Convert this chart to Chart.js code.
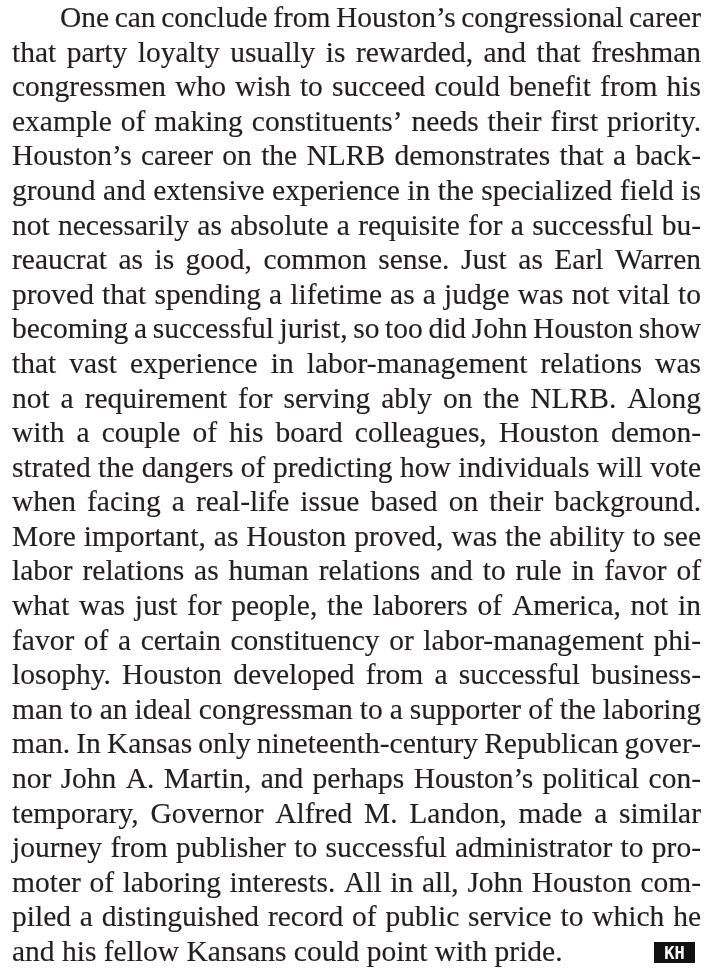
<!DOCTYPE html>
<html>
<head>
<meta charset="utf-8">
<script src="https://cdn.jsdelivr.net/npm/chart.js@4.4.0/dist/chart.umd.min.js"></script>
<style>
  html, body { margin: 0; padding: 0; background: #fff; }
  #page { display: block; }
</style>
</head>
<body>
<canvas id="page" width="721" height="968"></canvas>
<script>
// one entry per printed line, breaks and hyphens as on the page
const lines = [
    'One can conclude from Houston’s congressional career',
    'that party loyalty usually is rewarded, and that freshman',
    'congressmen who wish to succeed could benefit from his',
    'example of making constituents’ needs their first priority.',
    'Houston’s career on the NLRB demonstrates that a back-',
    'ground and extensive experience in the specialized field is',
    'not necessarily as absolute a requisite for a successful bu-',
    'reaucrat as is good, common sense. Just as Earl Warren',
    'proved that spending a lifetime as a judge was not vital to',
    'becoming a successful jurist, so too did John Houston show',
    'that vast experience in labor-management relations was',
    'not a requirement for serving ably on the NLRB. Along',
    'with a couple of his board colleagues, Houston demon-',
    'strated the dangers of predicting how individuals will vote',
    'when facing a real-life issue based on their background.',
    'More important, as Houston proved, was the ability to see',
    'labor relations as human relations and to rule in favor of',
    'what was just for people, the laborers of America, not in',
    'favor of a certain constituency or labor-management phi-',
    'losophy. Houston developed from a successful business-',
    'man to an ideal congressman to a supporter of the laboring',
    'man. In Kansas only nineteenth-century Republican gover-',
    'nor John A. Martin, and perhaps Houston’s political con-',
    'temporary, Governor Alfred M. Landon, made a similar',
    'journey from publisher to successful administrator to pro-',
    'moter of laboring interests. All in all, John Houston com-',
    'piled a distinguished record of public service to which he',
    'and his fellow Kansans could point with pride.'
];
const logoText = 'KH';

const lastLine = lines.length - 1;
const fontFamily = '"Liberation Serif", "Times New Roman", serif';
const textColor = '#231f20';
const indent = 48;
const minGap = 0.7;    // in spaces, below this the line gets squeezed

function gapRatios(ctx, size, avail) {
    ctx.font = size + 'px ' + fontFamily;
    const space = ctx.measureText(' ').width;
    const out = [];
    for (let i = 0; i < lastLine; i++) {
        const words = lines[i].split(' ');
        const total = words.reduce((a, t) => a + ctx.measureText(t).width, 0);
        const room = avail - (i === 0 ? indent : 0);
        out.push((room - total) / ((words.length - 1) * space));
    }
    return out;
}

// biggest size where the typical line still has a bit more than a normal space
function pickFontSize(ctx, avail) {
    for (let s = 32; s >= 16; s -= 0.25) {
        const g = gapRatios(ctx, s, avail).sort((a, b) => a - b);
        const median = g[Math.floor(g.length / 2)];
        if (median >= 1.2 && g[0] >= 0.45) return s;
    }
    return 16;
}

const justifiedText = {
    id: 'justifiedText',
    afterDatasetsDraw(chart) {
        const ctx = chart.ctx;
        const left = chart.scales.x.getPixelForValue(0);
        const right = chart.scales.x.getPixelForValue(1);
        const size = pickFontSize(ctx, right - left);

        ctx.save();
        ctx.font = size + 'px ' + fontFamily;
        ctx.fillStyle = textColor;
        ctx.strokeStyle = textColor;
        ctx.lineWidth = 0.15;
        ctx.textBaseline = 'alphabetic';
        const space = ctx.measureText(' ').width;

        chart.getDatasetMeta(0).data.forEach((pt, i) => {
            const y = pt.y;
            const x0 = left + (i === 0 ? indent : 0);
            const words = lines[i].split(' ');
            const widths = words.map(t => ctx.measureText(t).width);
            const total = widths.reduce((a, b) => a + b, 0);
            const n = words.length - 1;
            let sx = 1, gap = space;
            if (i !== lastLine) {
                gap = (right - x0 - total) / n;
                if (gap < minGap * space) {
                    gap = minGap * space;
                    sx = (right - x0 - n * gap) / total;
                }
            }
            let x = x0;
            words.forEach((t, k) => {
                ctx.save();
                ctx.translate(x, y);
                ctx.scale(sx, 1);
                ctx.fillText(t, 0, 0);
                ctx.strokeText(t, 0, 0);
                ctx.restore();
                x += widths[k] * sx + gap;
            });

            if (i === lastLine) {
                // end-of-article mark
                ctx.fillStyle = '#111';
                ctx.fillRect(right - 47, y - 19, 41, 21);
                ctx.fillStyle = '#fff';
                ctx.font = 'bold 17px "DejaVu Sans Mono", monospace';
                ctx.textAlign = 'center';
                ctx.fillText(logoText, right - 26.5, y - 2);
            }
        });
        ctx.restore();
    }
};

new Chart(document.getElementById('page'), {
    type: 'scatter',
    data: {
        datasets: [{
            data: lines.map((t, i) => ({ x: 0, y: i })),
            pointRadius: 0,
            showLine: false
        }]
    },
    options: {
        responsive: false,
        animation: false,
        events: [],
        layout: { padding: { left: 12, right: 20, top: 27, bottom: 7 } },
        scales: {
            x: { type: 'linear', min: 0, max: 1, display: false },
            y: { type: 'linear', min: 0, max: lastLine, reverse: true, display: false }
        },
        plugins: {
            legend: { display: false },
            tooltip: { enabled: false }
        }
    },
    plugins: [justifiedText]
});
</script>
</body>
</html>
